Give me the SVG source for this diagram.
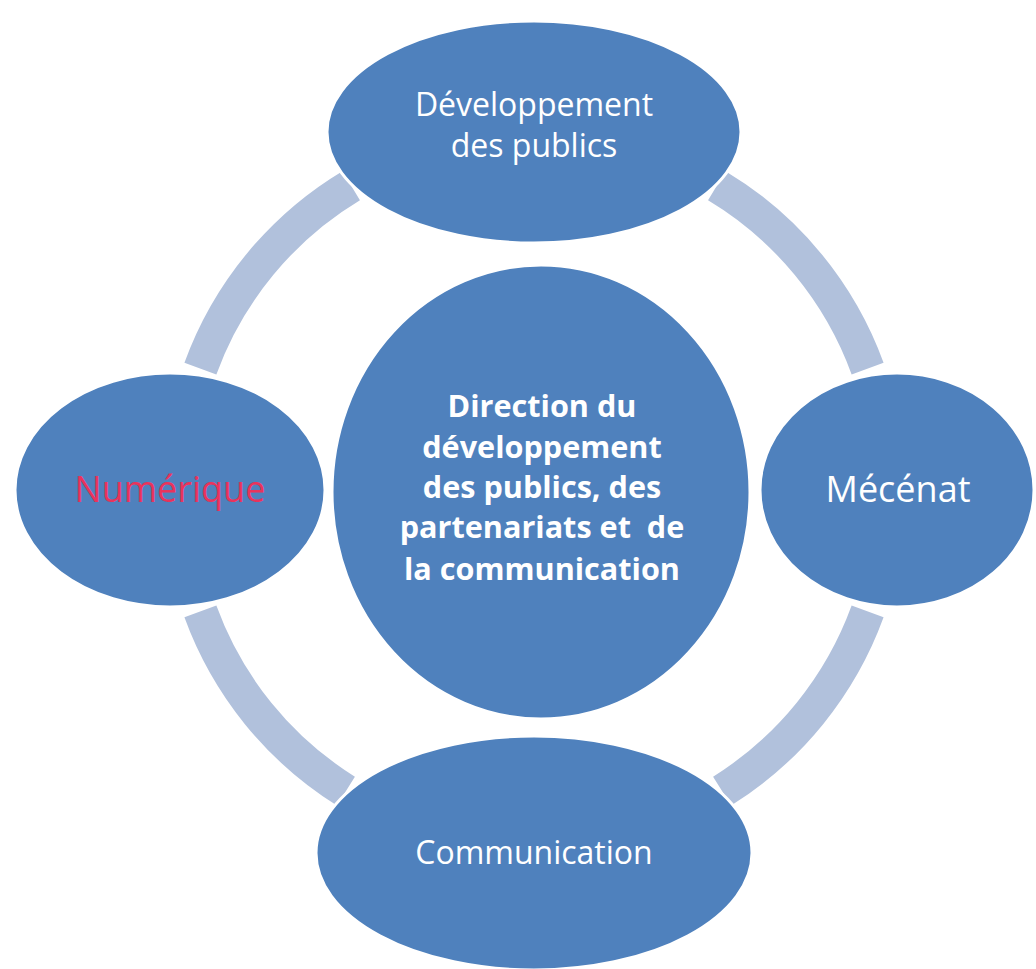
<svg xmlns="http://www.w3.org/2000/svg" width="1036" height="969" viewBox="0 0 1036 969">
  <style>
    .arc { fill: none; stroke: #b1c1dc; stroke-width: 34; stroke-linecap: butt; }
    .node { fill: #4f81bd; stroke: #ffffff; stroke-width: 3; }
    .lbl { font-family: "Open Sans", "Liberation Sans", sans-serif; fill: #ffffff; text-anchor: middle; }
    .ctr { font-family: "Open Sans", "Liberation Sans", sans-serif; fill: #ffffff; text-anchor: middle; font-weight: bold; font-size: 30.6px; }
  </style>
  <rect x="0" y="0" width="1036" height="969" fill="#ffffff"/>
  <g id="connectors">
    <path class="arc" d="M 716.8 185.7 A 355 355 0 0 1 867.6 368.6"/>
    <path class="arc" d="M 867.6 611.4 A 355 355 0 0 1 722.1 791.1"/>
    <path class="arc" d="M 345.9 791.1 A 355 355 0 0 1 200.4 611.4"/>
    <path class="arc" d="M 200.4 368.6 A 355 355 0 0 1 351.2 185.7"/>
  </g>
  <g id="node-center">
    <ellipse class="node" cx="541" cy="492" rx="209" ry="227"/>
    <text class="ctr" x="542" y="417">Direction du</text>
    <text class="ctr" x="542" y="458">développement</text>
    <text class="ctr" x="542" y="498">des publics, des</text>
    <text class="ctr" x="542" y="538" xml:space="preserve">partenariats et  de</text>
    <text class="ctr" x="542" y="580">la communication</text>
  </g>
  <g id="node-top">
    <ellipse class="node" cx="534" cy="132" rx="207" ry="111"/>
    <text class="lbl" x="534" y="116" font-size="32">Développement</text>
    <text class="lbl" x="534" y="157" font-size="32">des publics</text>
  </g>
  <g id="node-right">
    <ellipse class="node" cx="897" cy="490" rx="137" ry="117"/>
    <text class="lbl" x="898" y="502" font-size="36">Mécénat</text>
  </g>
  <g id="node-bottom">
    <ellipse class="node" cx="534" cy="853" rx="218" ry="117"/>
    <text class="lbl" x="534" y="864" font-size="32">Communication</text>
  </g>
  <g id="node-left">
    <ellipse class="node" cx="170" cy="490" rx="155" ry="117"/>
    <text class="lbl" x="170" y="502" font-size="36" style="fill:#e9335c">Numérique</text>
  </g>
</svg>
